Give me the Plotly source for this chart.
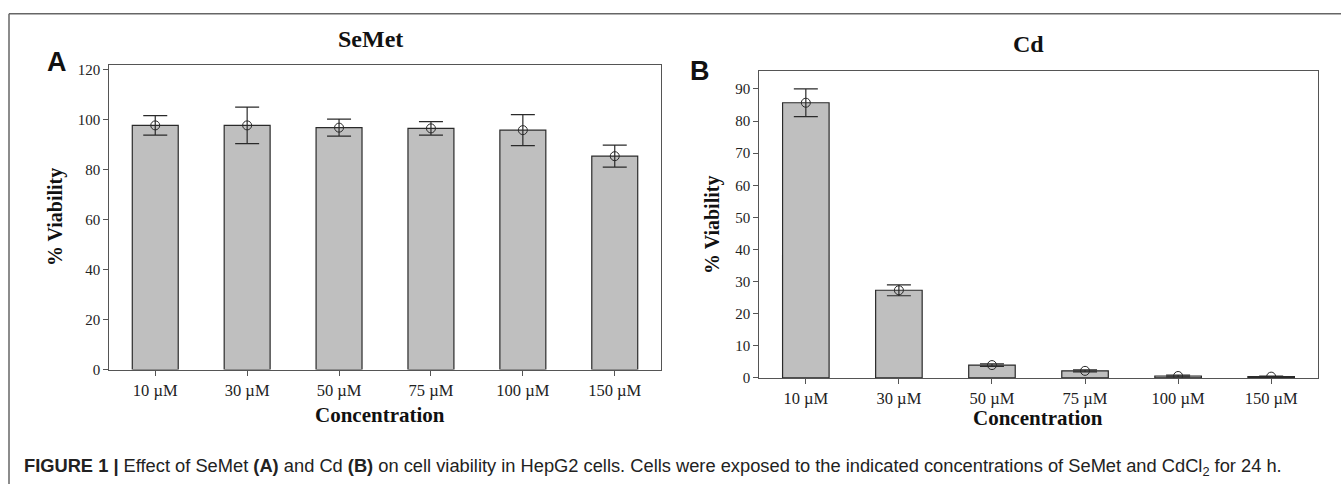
import plotly.graph_objects as go

W, H = 1341, 492

categories = ["10 µM", "30 µM", "50 µM", "75 µM", "100 µM", "150 µM"]
semet_mean = [97.6, 97.6, 96.7, 96.4, 95.7, 85.3]
semet_err = [3.9, 7.3, 3.4, 2.7, 6.2, 4.4]
cd_mean = [85.7, 27.3, 4.0, 2.2, 0.6, 0.4]
cd_err = [4.3, 1.7, 0.4, 0.3, 0.3, 0.2]
semet_ticks = [0, 20, 40, 60, 80, 100, 120]
cd_ticks = [0, 10, 20, 30, 40, 50, 60, 70, 80, 90]

SERIF = "Liberation Serif"
SANS = "Liberation Sans"
BAR_FILL = "#bfbfbf"
DARK = "#2a2a2a"
FRAME = "#555555"


def px(x):
    return x / W


def py(y):
    return 1 - y / H


fig = go.Figure()

for mean, err, xa, ya in [(semet_mean, semet_err, "x", "y"), (cd_mean, cd_err, "x2", "y2")]:
    fig.add_trace(go.Bar(
        x=categories, y=mean, width=0.5, xaxis=xa, yaxis=ya,
        marker=dict(color=BAR_FILL, line=dict(color=DARK, width=1.2)),
        showlegend=False, hoverinfo="x+y",
    ))
    fig.add_trace(go.Scatter(
        x=categories, y=mean, xaxis=xa, yaxis=ya, mode="markers",
        marker=dict(symbol="circle-open", size=9, color=DARK, line=dict(width=1)),
        error_y=dict(type="data", array=err, visible=True, color=DARK, thickness=1.2, width=12),
        showlegend=False, hoverinfo="skip",
    ))

axis_common = dict(
    showline=True, mirror=True, linecolor=FRAME, linewidth=1.2,
    ticks="outside", ticklen=5, tickcolor=FRAME, tickwidth=1,
    showgrid=False, zeroline=False,
)
xfont = dict(family=SERIF, size=16.5, color="#222")
yfont = dict(family=SERIF, size=15, color="#222")

fig.update_layout(
    width=W, height=H,
    margin=dict(l=0, r=0, t=0, b=0),
    paper_bgcolor="white", plot_bgcolor="white",
    bargap=0.5,
    xaxis=dict(domain=[px(109.3), px(660.7)], anchor="y", type="category",
               range=[-0.5, 5.5], tickfont=xfont, **axis_common),
    yaxis=dict(domain=[py(375), py(63)], anchor="x", range=[0, 121.9],
               tickvals=semet_ticks, tickfont=yfont, **axis_common),
    xaxis2=dict(domain=[px(759.3), px(1317.7)], anchor="y2", type="category",
                range=[-0.5, 5.5], tickfont=xfont, **axis_common),
    yaxis2=dict(domain=[py(383.5), py(69.5)], anchor="x2", range=[0, 95.6],
                tickvals=cd_ticks, tickfont=yfont, **axis_common),
)

ann = []


def add_text(x, y, text, size, family, bold=False, angle=0, xanchor="center", color="#111"):
    ann.append(dict(
        x=px(x), y=py(y), xref="paper", yref="paper", showarrow=False,
        text=f"<b>{text}</b>" if bold else text, textangle=angle,
        xanchor=xanchor, yanchor="middle",
        font=dict(family=family, size=size, color=color),
    ))


add_text(370, 37, "SeMet", 24, SERIF, bold=True)
add_text(1028, 42, "Cd", 24, SERIF, bold=True)
add_text(57, 60, "A", 27, SANS, bold=True)
add_text(700, 70, "B", 27, SANS, bold=True)
add_text(55, 219, "% Viability", 20, SERIF, bold=True, angle=-90)
add_text(713, 227, "% Viability", 20, SERIF, bold=True, angle=-90)
add_text(380, 421, "Concentration", 21, SERIF, bold=True)
add_text(1038, 425, "Concentration", 21, SERIF, bold=True)
add_text(22, 475,
         "<b>FIGURE 1 |</b> Effect of SeMet <b>(A)</b> and Cd <b>(B)</b> on cell viability in HepG2 cells. "
         "Cells were exposed to the indicated concentrations of SeMet and CdCl<sub>2</sub> for 24 h.",
         18.3, SANS, xanchor="left", color="#222")

fig.update_layout(annotations=ann)

fig.update_layout(shapes=[
    dict(type="line", xref="paper", yref="paper", x0=px(9), x1=1, y0=py(11), y1=py(11),
         line=dict(color="#666", width=1.5)),
    dict(type="line", xref="paper", yref="paper", x0=px(9), x1=px(9), y0=py(11), y1=0,
         line=dict(color="#666", width=1.5)),
])

post = (
    "var s=document.createElement('style');"
    "s.textContent='html,body{margin:0;padding:0;overflow:hidden;width:1341px;height:492px;}';"
    "document.head.appendChild(s);"
)
fig.write_html("out.html", config={"displayModeBar": False}, post_script=post)
